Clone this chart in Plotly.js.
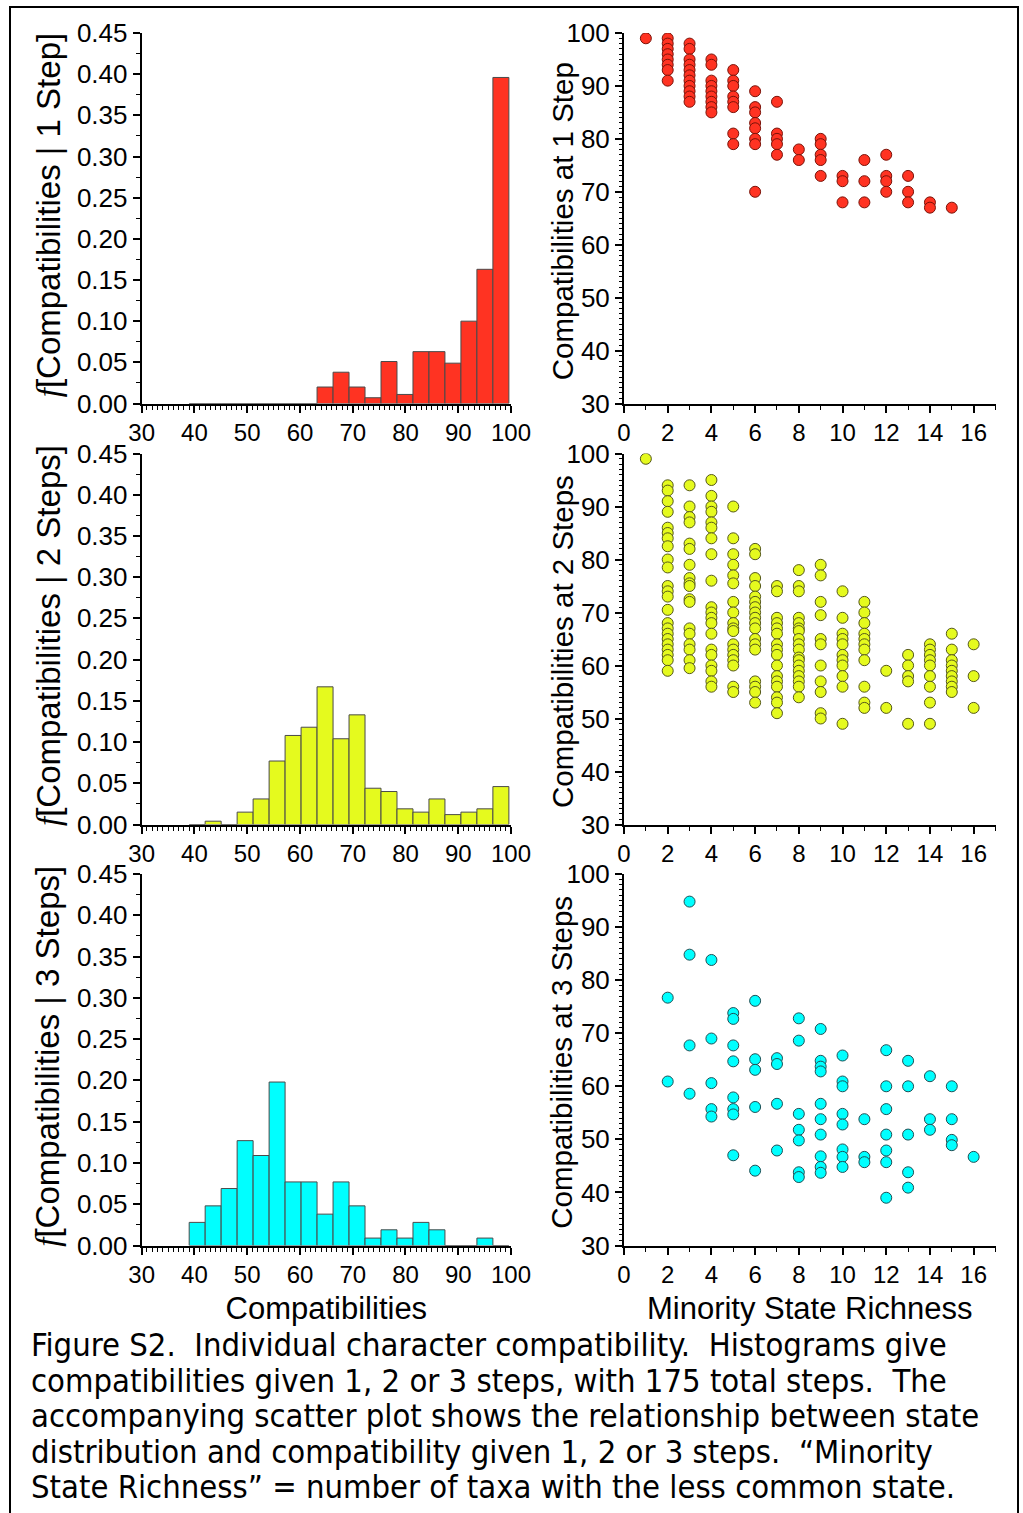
<!DOCTYPE html>
<html>
<head>
<meta charset="utf-8">
<script src="https://cdn.plot.ly/plotly-3.0.1.min.js"></script>
<style>
  html, body { margin: 0; padding: 0; background: #ffffff; }
  #page { position: relative; width: 1023px; height: 1513px; overflow: hidden; background: #ffffff; }
  #frame { position: absolute; left: 9px; top: 6px; width: 1010px; height: 1520px;
           border: 2px solid #000; box-sizing: border-box; pointer-events: none; }
  #chart { position: absolute; left: 0; top: 0; width: 1023px; height: 1513px; }
  #caption { position: absolute; left: 31px; top: 1328px; margin: 0;
             font-family: "DejaVu Sans Condensed", "DejaVu Sans", sans-serif;
             font-size: 32.5px; line-height: 35.5px; color: #000; white-space: pre; }
</style>
</head>
<body>
<div id="page">
  <div id="chart"></div>
  <div id="frame"></div>
  <p id="caption">Figure S2.  Individual character compatibility.  Histograms give
compatibilities given 1, 2 or 3 steps, with 175 total steps.  The
accompanying scatter plot shows the relationship between state
distribution and compatibility given 1, 2 or 3 steps.  “Minority
State Richness” = number of taxa with the less common state.</p>
</div>
<script>
// Shared histogram bin edges (compatibility, %)
const binEdges = [39.00, 42.03, 45.06, 48.09, 51.12, 54.15, 57.18, 60.21, 63.24, 66.27,
                  69.30, 72.33, 75.36, 78.39, 81.42, 84.45, 87.48, 90.51, 93.54, 96.57, 99.60];

// Relative frequency per bin, given 1, 2 or 3 steps
const freq1 = [0, 0, 0, 0, 0, 0, 0, 0, 0.020, 0.038, 0.020, 0.007, 0.051, 0.011, 0.063, 0.063, 0.049, 0.100, 0.163, 0.396];
const freq2 = [0, 0.004, 0, 0.015, 0.031, 0.077, 0.108, 0.118, 0.167, 0.104, 0.133, 0.044, 0.040, 0.019, 0.015, 0.031, 0.012, 0.015, 0.019, 0.046];
const freq3 = [0.028, 0.048, 0.069, 0.127, 0.109, 0.198, 0.077, 0.077, 0.038, 0.077, 0.048, 0.009, 0.019, 0.009, 0.028, 0.019, 0, 0, 0.009, 0];

// Minority state richness vs compatibility at 1 step
const richness1 = [1,
  2,2,2,2,2,2,2,2,
  3,3,3,3,3,3,3,3,3,3,3,
  4,4,4,4,4,4,4,4,4,
  5,5,5,5,5,5,5,5,
  6,6,6,6,6,6,6,6,
  7,7,7,7,7,
  8,8,
  9,9,9,9,9,
  10,10,10,
  11,11,11,
  12,12,12,12,
  13,13,13,
  14,14,
  15];
const compat1 = [99,
  99,98,97,96,95,94,93,91,
  98,97,95,94,93,92,91,90,89,88,87,
  95,94,91,90,89,88,87,86,85,
  93,91,90,88,87,86,81,79,
  89,86,85,83,82,80,79,70,
  87,81,80,79,77,
  78,76,
  80,79,77,76,73,
  73,72,68,
  76,72,68,
  77,73,72,70,
  73,70,68,
  68,67,
  67];

// Minority state richness vs compatibility at 2 steps
const richness2 = [1,
  2,2,2,2,2,2,2,2,2,2,2,2,2,2,2,2,2,2,2,2,2,2,2,
  3,3,3,3,3,3,3,3,3,3,3,3,3,3,3,3,3,3,
  4,4,4,4,4,4,4,4,4,4,4,4,4,4,4,4,4,4,4,4,
  5,5,5,5,5,5,5,5,5,5,5,5,5,5,5,5,5,5,
  6,6,6,6,6,6,6,6,6,6,6,6,6,6,6,6,6,6,
  7,7,7,7,7,7,7,7,7,7,7,7,7,7,7,7,
  8,8,8,8,8,8,8,8,8,8,8,8,8,8,8,8,8,8,
  9,9,9,9,9,9,9,9,9,9,9,
  10,10,10,10,10,10,10,10,10,10,10,
  11,11,11,11,11,11,11,11,11,11,11,
  12,12,
  13,13,13,13,13,
  14,14,14,14,14,14,14,14,14,
  15,15,15,15,15,15,15,15,15,
  16,16,16];
const compat2 = [99,
  94,93,91,89,86,85,84,82.5,80,78.5,75,74,73,70.5,68,67,66,65,64,63,62,61,59,
  94,90,88,87,83,82,79,76.5,75.5,75,72.5,72,67,66,64,63,61,59.5,
  95,92,90,89,87,86,84,81,76,71,70,69,68,66,63,62,60,59,57,56,
  90,84,81,79,77,75.5,72,70,68,67,66.5,64,63,62,61,60,56,55,
  82,81,76.5,75,73,72,71,70,69,68,67,65,64,63,57,56,55,53,
  75,74,69,68,67,66,64,63,62,60,58,57,56,54,53,51,
  78,75,74,69,68,67,66.5,65,64,63,61.5,61,60,59,58,57,56,54,
  79,77,72,69.5,65,64,60,57,55,51,50,
  74,69,66,65,64,62,61,60,58,56,49,
  72,70,68,66,65,64,63,61,56,53,52,
  59,52,
  62,60,58,57,49,
  64,63,62,61,60,58,56,53,49,
  66,63,61,60,59,58,57,56,55,
  64,58,52];

// Minority state richness vs compatibility at 3 steps
const richness3 = [2,2,
  3,3,3,3,
  4,4,4,4,4,
  5,5,5,5,5,5,5,5,
  6,6,6,6,6,
  7,7,7,7,
  8,8,8,8,8,8,8,
  9,9,9,9,9,9,9,9,9,9,
  10,10,10,10,10,10,10,10,
  11,11,11,
  12,12,12,12,12,12,12,
  13,13,13,13,13,
  14,14,14,
  15,15,15,15,
  16];
const compat3 = [76.7,60.9,
  94.8,84.8,67.7,58.6,
  83.8,69,60.6,55.7,54.3,
  73.8,72.7,67.7,64.7,57.9,55.7,54.7,47,
  76.1,65.1,63.1,56.1,44.1,
  65.3,64.2,56.7,47.9,
  72.8,68.6,54.8,51.8,49.8,43.8,42.9,
  70.8,64.8,63.7,62.8,56.7,53.8,50.9,46.8,44.8,43.7,
  65.8,60.9,60,54.8,52.8,48.1,46.7,44.8,
  53.8,46.7,45.7,
  66.8,60,55.7,50.9,47.9,45.7,39,
  64.8,60,50.9,43.8,40.9,
  61.9,53.8,51.8,
  60,53.8,49.9,48.9,
  46.7];

const W = 1023, H = 1513;
const xs = (a, b) => [a / W, b / W];
const ys = (top, bottom) => [1 - bottom / H, 1 - top / H];

const binMid = binEdges.slice(0, -1).map((e, i) => (e + binEdges[i + 1]) / 2);
const binWidth = binEdges.slice(0, -1).map((e, i) => binEdges[i + 1] - e);

const colors = [
  { fill: '#ff3322', edge: '#7a1208' },
  { fill: '#e5fa1e', edge: '#55581a' },
  { fill: '#00ffff', edge: '#1f4f55' }
];

const freqs = [freq1, freq2, freq3];
const scat = [[richness1, compat1], [richness2, compat2], [richness3, compat3]];

const traces = [];
for (let r = 0; r < 3; r++) {
  const hx = 'x' + (2 * r + 1), hy = 'y' + (2 * r + 1);
  const sx = 'x' + (2 * r + 2), sy = 'y' + (2 * r + 2);
  traces.push({
    type: 'bar', x: binMid, y: freqs[r], width: binWidth,
    xaxis: hx, yaxis: hy,
    marker: { color: colors[r].fill, line: { color: '#4a4a4a', width: 1 } },
    hoverinfo: 'x+y', showlegend: false
  });
  traces.push({
    type: 'scatter', mode: 'markers', x: scat[r][0], y: scat[r][1],
    xaxis: sx, yaxis: sy,
    marker: { color: colors[r].fill, size: 11, line: { color: colors[r].edge, width: 1 } },
    showlegend: false
  });
}

const FAMILY = 'Liberation Sans, Arial, sans-serif';
const xTickFont = { family: FAMILY, size: 24, color: '#000' };
const yTickFont = { family: FAMILY, size: 26, color: '#000' };
const titleFont = { family: FAMILY, size: 31, color: '#000' };

const baseAxis = {
  showline: true, linecolor: '#000', linewidth: 2, mirror: false,
  showgrid: false, zeroline: false,
  ticks: 'outside', ticklen: 7, tickwidth: 2, tickcolor: '#000',
  fixedrange: true
};

const rows = [[33, 403.5], [453.5, 824.5], [874, 1245.5]];
const stepWord = ['1 Step', '2 Steps', '3 Steps'];
const layout = {
  width: W, height: H,
  margin: { l: 0, r: 0, t: 0, b: 0 },
  paper_bgcolor: 'rgba(0,0,0,0)', plot_bgcolor: 'rgba(0,0,0,0)',
  showlegend: false, bargap: 0,
  font: { family: FAMILY, color: '#000' },
  annotations: []
};

for (let r = 0; r < 3; r++) {
  const [top, bottom] = rows[r];
  const hi = 2 * r + 1, si = 2 * r + 2;
  const last = r === 2;
  layout['xaxis' + hi] = Object.assign({}, baseAxis, {
    domain: xs(141.7, 511), anchor: 'y' + hi, range: [30, 100], dtick: 10, tick0: 30,
    tickfont: xTickFont,
    minor: { dtick: 1, ticklen: 4, tickwidth: 1, tickcolor: '#000', ticks: 'outside' },
    title: last ? { text: 'Compatibilities', font: titleFont, standoff: 10 } : undefined
  });
  layout['yaxis' + hi] = Object.assign({}, baseAxis, {
    domain: ys(top, bottom), anchor: 'x' + hi, range: [0, 0.45], dtick: 0.05, tick0: 0,
    tickformat: '.2f', tickfont: yTickFont,
    minor: { dtick: 0.025, ticklen: 4, tickwidth: 1, tickcolor: '#000', ticks: 'outside' }
  });
  layout['xaxis' + si] = Object.assign({}, baseAxis, {
    domain: xs(624, 995.5), anchor: 'y' + si, range: [0, 17], dtick: 2, tick0: 0,
    tickfont: xTickFont,
    minor: { dtick: 1, ticklen: 4, tickwidth: 1, tickcolor: '#000', ticks: 'outside' },
    title: last ? { text: 'Minority State Richness', font: titleFont, standoff: 10 } : undefined
  });
  layout['yaxis' + si] = Object.assign({}, baseAxis, {
    domain: ys(top, bottom), anchor: 'x' + si, range: [30, 100], dtick: 10, tick0: 30,
    tickfont: yTickFont,
    minor: { dtick: 1, ticklen: 3, tickwidth: 1, tickcolor: '#000', ticks: 'outside' }
  });

  // Vertical axis titles, placed in page coordinates
  const centre = (top + bottom) / 2;
  layout.annotations.push({
    xref: 'paper', yref: 'paper', x: 48 / W, y: 1 - (centre - 3) / H, xanchor: 'center', yanchor: 'middle',
    textangle: -90, showarrow: false,
    text: '<span style="font-family:Liberation Serif"><i>f</i></span>[Compatibilities | ' + stepWord[r] + ']',
    font: { family: FAMILY, size: 33, color: '#000' }
  });
  layout.annotations.push({
    xref: 'paper', yref: 'paper', x: 562 / W, y: 1 - (centre + 3) / H, xanchor: 'center', yanchor: 'middle',
    textangle: -90, showarrow: false,
    text: 'Compatibilities at ' + stepWord[r],
    font: { family: FAMILY, size: 29.5, color: '#000' }
  });
}

Plotly.newPlot('chart', traces, layout, { staticPlot: true, displayModeBar: false });
</script>
</body>
</html>
